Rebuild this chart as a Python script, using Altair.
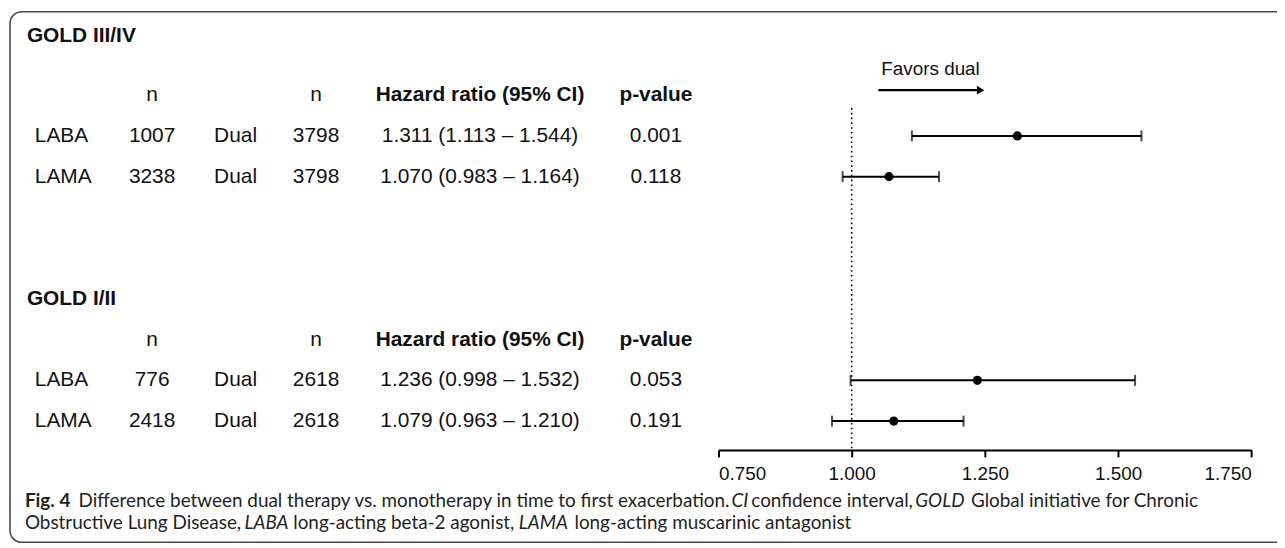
import altair as alt
import pandas as pd

# ---------------- data ----------------
group_keys = ["III/IV", "III/IV", "I/II", "I/II"]
mono = ["LABA", "LAMA", "LABA", "LAMA"]
n_mono = ["1007", "3238", "776", "2418"]
dual = ["Dual", "Dual", "Dual", "Dual"]
n_dual = ["3798", "3798", "2618", "2618"]
hr = [1.311, 1.070, 1.236, 1.079]
ci_low = [1.113, 0.983, 0.998, 0.963]
ci_high = [1.544, 1.164, 1.532, 1.210]
p_value = ["0.001", "0.118", "0.053", "0.191"]
group_titles = ["GOLD III/IV", "GOLD I/II"]
header_n = "n"
header_hr = "Hazard ratio (95% CI)"
header_p = "p-value"
x_ticks = [0.75, 1.0, 1.25, 1.5, 1.75]
reference_hr = [1.0]
favors_label = ["Favors dual"]
arrow_from = [1.05]
arrow_to = [1.242]
favors_at = [1.148]

caption_line1 = [
    ("Fig. 4", "bold", "normal"),
    ("Difference between dual therapy vs. monotherapy in time to first exacerbation.", "normal", "normal"),
    ("CI", "normal", "italic"),
    ("confidence interval,", "normal", "normal"),
    ("GOLD", "normal", "italic"),
    ("Global initiative for Chronic", "normal", "normal"),
]
caption_line2 = [
    ("Obstructive Lung Disease,", "normal", "normal"),
    ("LABA", "normal", "italic"),
    ("long-acting beta-2 agonist,", "normal", "normal"),
    ("LAMA", "normal", "italic"),
    ("long-acting muscarinic antagonist", "normal", "normal"),
]
cap1_x = [25, 79, 736, 756, 921, 977]
cap2_x = [25, 246, 295, 522, 578]

# ---------------- tables ----------------
keys = [f"{g} {m}" for g, m in zip(group_keys, mono)]
rows = pd.DataFrame({
    "key": keys, "mono": mono, "n_mono": n_mono, "dual": dual, "n_dual": n_dual,
    "hr": hr, "lo": ci_low, "hi": ci_high,
    "hr_text": [f"{h:.3f} ({l:.3f} \u2013 {u:.3f})" for h, l, u in zip(hr, ci_low, ci_high)],
    "p": p_value,
})
headers = pd.DataFrame({"key": ["hdr III/IV", "hdr I/II"]})
headers["n"] = header_n
headers["hrh"] = header_hr
headers["ph"] = header_p

y_domain = ["hdr III/IV", "III/IV LABA", "III/IV LAMA", "gap a", "gap b",
            "title I/II", "hdr I/II", "I/II LABA", "I/II LAMA"]
yscale = alt.Scale(type="point", domain=y_domain, range=[86, 414], padding=0)
xscale = alt.Scale(domain=[0.75, 1.75], range=[715, 1251], nice=False, zero=False)
xaxis = alt.Axis(values=x_ticks, format=".3f", title=None, grid=False,
                 domainColor="black", domainWidth=2, tickColor="black", tickWidth=2,
                 tickSize=7, labelFontSize=19, labelFont="Liberation Sans",
                 labelColor="#111111", labelPadding=8)

FONT = "Liberation Sans"
TXT = "#111111"
FS = 21


def ycat():
    return alt.Y("key:N", scale=yscale, axis=None)


def col(df, field, xpix, bold=False, align="center"):
    return alt.Chart(df).mark_text(
        align=align, baseline="middle", font=FONT, fontSize=FS,
        fontWeight="bold" if bold else "normal", color=TXT
    ).encode(x=alt.value(xpix), y=ycat(), text=f"{field}:N")


layers = []

# frame
frame = alt.Chart(pd.DataFrame({"k": [0]})).mark_rect(
    fill=None, stroke="#4a4a4a", strokeWidth=1.6, cornerRadius=12
).encode(x=alt.value(2), x2=alt.value(1300), y=alt.value(2), y2=alt.value(536))
layers.append(frame)

# group titles
layers.append(alt.Chart(pd.DataFrame({"t": [group_titles[0]]})).mark_text(
    align="left", baseline="middle", font=FONT, fontSize=FS, fontWeight="bold", color=TXT
).encode(x=alt.value(19), y=alt.value(27), text="t:N"))
layers.append(alt.Chart(pd.DataFrame({"key": ["title I/II"], "t": [group_titles[1]]})).mark_text(
    align="left", baseline="middle", font=FONT, fontSize=FS, fontWeight="bold", color=TXT
).encode(x=alt.value(19), y=ycat(), text="t:N"))

# headers
layers.append(col(headers, "n", 145))
layers.append(col(headers, "n", 310))
layers.append(col(headers, "hrh", 475, bold=True))
layers.append(col(headers, "ph", 652, bold=True))

# rows
layers.append(col(rows, "mono", 27, align="left"))
layers.append(col(rows, "n_mono", 145))
layers.append(col(rows, "dual", 229))
layers.append(col(rows, "n_dual", 310))
layers.append(col(rows, "hr_text", 475))
layers.append(col(rows, "p", 652))

# reference line
ref = alt.Chart(pd.DataFrame({"ref": reference_hr})).mark_rule(
    color="black", strokeWidth=1.6, strokeDash=[1.6, 3.2]
).encode(x=alt.X("ref:Q", scale=xscale, axis=xaxis), y=alt.value(99), y2=alt.value(443))
layers.append(ref)

# CI lines
layers.append(alt.Chart(rows).mark_rule(color="black", strokeWidth=2).encode(
    x=alt.X("lo:Q", scale=xscale, axis=xaxis), x2="hi:Q", y=ycat()))
for f in ["lo", "hi"]:
    layers.append(alt.Chart(rows).mark_tick(color="black", thickness=2, size=11, orient="vertical").encode(
        x=alt.X(f"{f}:Q", scale=xscale, axis=xaxis), y=ycat()))
layers.append(alt.Chart(rows).mark_circle(color="black", size=85, opacity=1).encode(
    x=alt.X("hr:Q", scale=xscale, axis=xaxis), y=ycat()))

# favors arrow
arrow = pd.DataFrame({"a": arrow_from, "b": arrow_to, "lab": favors_label, "at": favors_at})
layers.append(alt.Chart(arrow).mark_rule(color="black", strokeWidth=2.2).encode(
    x=alt.X("a:Q", scale=xscale, axis=xaxis), x2="b:Q", y=alt.value(81)))
layers.append(alt.Chart(arrow).mark_point(shape="triangle-right", filled=True, size=75,
                                          color="black", opacity=1).encode(
    x=alt.X("b:Q", scale=xscale, axis=xaxis), y=alt.value(81)))
layers.append(alt.Chart(arrow).mark_text(font=FONT, fontSize=19, color=TXT, baseline="middle").encode(
    x=alt.X("at:Q", scale=xscale, axis=xaxis), y=alt.value(60), text="lab:N"))

# caption
CAP_FONT = "Lato"
for (txt, w, st), xx in zip(caption_line1, cap1_x):
    layers.append(alt.Chart(pd.DataFrame({"t": [txt]})).mark_text(
        align="left", baseline="middle", font=CAP_FONT, fontSize=19, fontWeight=w,
        fontStyle=st, color="#231f20"
    ).encode(x=alt.value(xx - 8), y=alt.value(494), text="t:N"))
for (txt, w, st), xx in zip(caption_line2, cap2_x):
    layers.append(alt.Chart(pd.DataFrame({"t": [txt]})).mark_text(
        align="left", baseline="middle", font=CAP_FONT, fontSize=19, fontWeight=w,
        fontStyle=st, color="#231f20"
    ).encode(x=alt.value(xx - 8), y=alt.value(517), text="t:N"))

chart = alt.layer(*layers).properties(
    width=1277, height=443,
    autosize=alt.AutoSizeParams(type="none"),
    padding={"left": 0, "top": 0, "right": 0, "bottom": 95},
).configure_view(stroke=None)

chart.save("out.html", embed_options={"renderer": "svg", "actions": False})
